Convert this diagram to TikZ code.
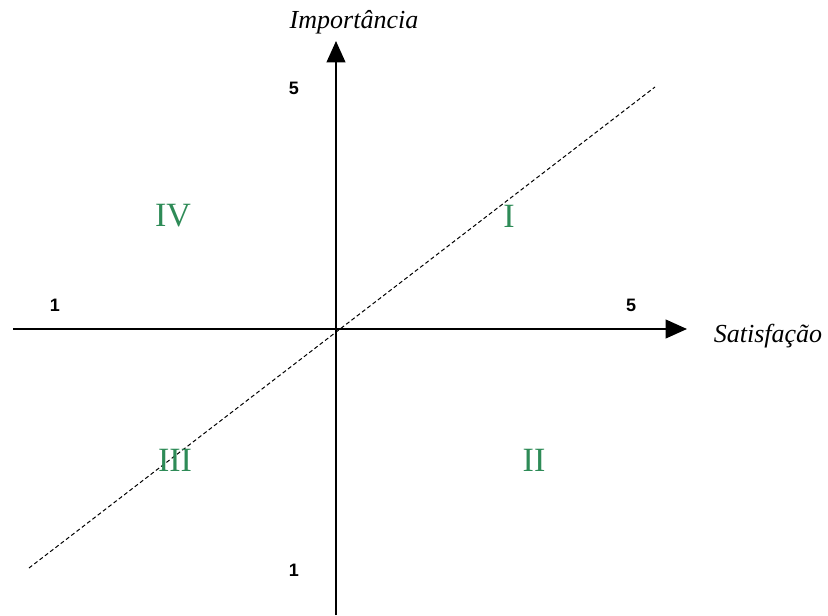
\documentclass[tikz,border=0pt]{standalone}
\usepackage{fontspec}
\setmainfont{Liberation Serif}
\setsansfont{Liberation Sans}
\usetikzlibrary{arrows.meta}
\definecolor{QUAD}{HTML}{2E8B57}
\definecolor{INK}{HTML}{000000}

\begin{document}
\begin{tikzpicture}[
  x=0.75pt, y=-0.75pt,
  axis/.style={draw=INK, line width=1.5pt, -{Triangle[length=16pt, width=14pt]}},
  diag/.style={draw=INK, line width=0.75pt, dash pattern=on 3pt off 2pt},
  axlabel/.style={font=\fontsize{19.5}{22}\selectfont\itshape, text=INK, inner sep=0pt},
  tick/.style={font=\sffamily\bfseries\fontsize{13.5}{16}\selectfont, text=INK, inner sep=0pt},
  quad/.style={font=\fontsize{25.5}{28}\selectfont, text=QUAD, inner sep=0pt},
]
\useasboundingbox (0,0) rectangle (828,615);

% axes
\coordinate (xl) at (13,329);
\coordinate (xr) at (687,329);
\coordinate (yb) at (336,615);
\coordinate (yt) at (336,41);
\draw[axis] (xl) -- (xr);
\draw[axis] (yb) -- (yt);

% diagonal
\coordinate (dl) at (29,568);
\coordinate (dr) at (655,87);
\draw[diag] (dl) -- (dr);

% axis names
\node[axlabel] (imp) at (354,22) {Importância};
\node[axlabel] (sat) at (768,336) {Satisfação};

% scale marks
\node[tick] (ytop) at (294,88) {5};
\node[tick] (ybot) at (294,570) {1};
\node[tick] (xlow) at (55,305) {1};
\node[tick] (xhigh) at (631,305) {5};

% quadrants
\node[quad] (q1) at (509,216) {I};
\node[quad] (q2) at (534,460) {II};
\node[quad] (q3) at (175,460) {III};
\node[quad] (q4) at (173,216) {IV};
\end{tikzpicture}
\end{document}
